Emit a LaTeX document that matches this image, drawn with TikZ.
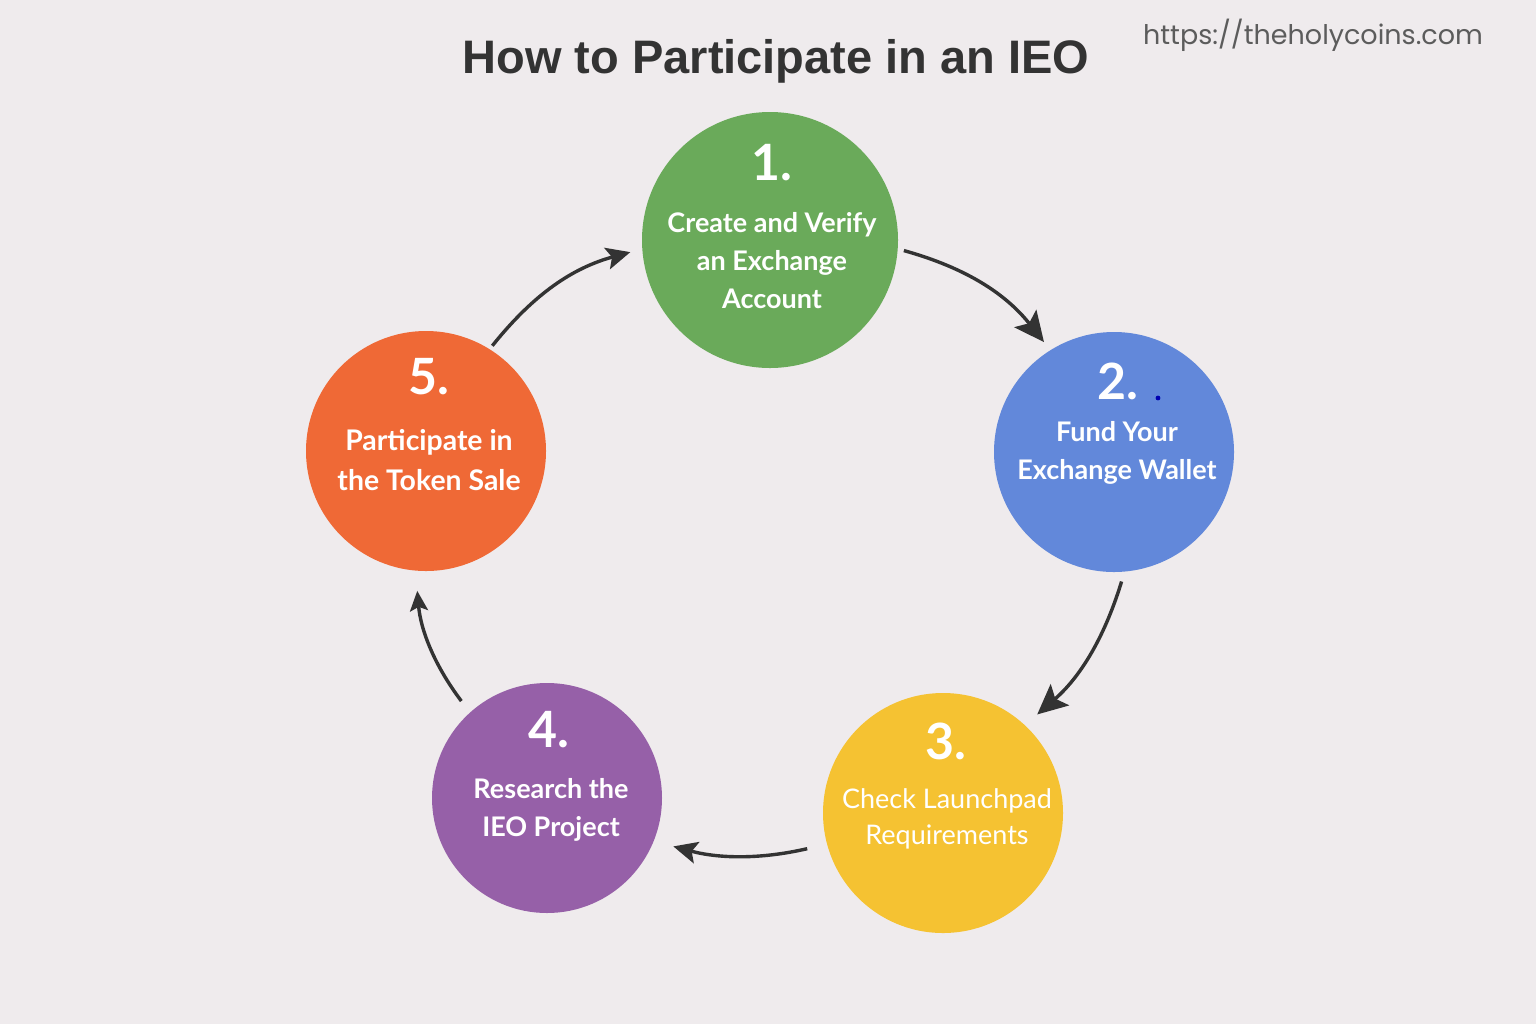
\documentclass[tikz,border=0pt]{standalone}
\usepackage{fontspec}
\usetikzlibrary{arrows.meta}
\newfontfamily\titlefont{Liberation Sans}
\newfontfamily\bodyfont{Lato}
\newfontfamily\urlfont{Poppins}
\definecolor{bgc}{HTML}{EFEBED}
\definecolor{cgreen}{HTML}{6AAA5A}
\definecolor{cblue}{HTML}{6288DA}
\definecolor{cyellow}{HTML}{F5C232}
\definecolor{cpurple}{HTML}{9660A8}
\definecolor{corange}{HTML}{EF6936}
\definecolor{ink}{HTML}{333333}
\tikzset{
  stepcirc/.style={circle, inner sep=0pt, fill=#1},
  numtxt/.style={text=white, font=\bodyfont\bfseries\fontsize{25}{25}\selectfont},
  bodytxt/.style={text=white, align=center, font=\bodyfont\bfseries\fontsize{13.5}{19}\selectfont},
  flow/.style={draw=ink, line width=1.7pt, bend left=#1},
  headL/.style={-{Stealth[length=15pt,width=14pt,inset=3pt]}},
  headM/.style={-{Stealth[length=12pt,width=11pt,inset=2.5pt]}},
  headS/.style={-{Stealth[length=10pt,width=9pt,inset=2pt]}},
}
\begin{document}
\begin{tikzpicture}[x=0.5pt,y=-0.5pt]
\fill[bgc] (0,0) rectangle (1536,1024);
\useasboundingbox (0,0) rectangle (1536,1024);

\node[text=ink, font=\titlefont\bfseries\fontsize{23.5}{24}\selectfont] (title) at (776,61) {How to Participate in an IEO};
\node[text=ink!80, font=\urlfont\fontsize{13.5}{14}\selectfont] (url) at (1313,35) {https://theholycoins.com};

\node[stepcirc=cgreen, minimum size=128pt] (c1) at (770,240) {};
\node[stepcirc=cblue, minimum size=120pt] (c2) at (1114,452) {};
\node[stepcirc=cyellow, minimum size=120pt] (c3) at (943,813) {};
\node[stepcirc=cpurple, minimum size=115pt] (c4) at (547,798) {};
\node[stepcirc=corange, minimum size=120pt] (c5) at (426,451) {};

\node[numtxt] (n1) at (772,163) {1.};
\node[bodytxt] (t1) at (772,261) {Create and Verify\\an Exchange\\Account};

\node[numtxt] (n2) at (1118,381) {2.};
\fill[blue!70!black] (1158,398) circle (1.2pt);
\node[bodytxt] (t2) at (1117,453) {Fund Your\\Exchange Wallet};

\node[numtxt] (n3) at (946,741) {3.};
\node[bodytxt, font=\bodyfont\fontsize{13.5}{18}\selectfont] (t3) at (947,819) {Check Launchpad\\Requirements};

\node[numtxt] (n4) at (549,730) {4.};
\node[bodytxt] (t4) at (551,810) {Research the\\IEO Project};

\node[numtxt] (n5) at (429,377) {5.};
\node[bodytxt, font=\bodyfont\bfseries\fontsize{14.2}{20}\selectfont] (t5) at (429,460) {Participate in\\the Token Sale};

\draw[flow=18, headL, shorten <=3pt, shorten >=5pt] (c1.-4) to (c2.122);
\draw[flow=16, headL, shorten <=5pt, shorten >=8pt] (c2.-85) to (c3.47);
\draw[flow=14, headM, shorten <=10pt, shorten >=10pt] (c3.-165) to (c4.-22);
\draw[flow=16, headS, shorten <=7pt, shorten >=10pt] (c4.132) to (c5.-95);
\draw[flow=18, headM, shorten <=2pt, shorten >=6pt] (c5.58) to (c1.-176);
\end{tikzpicture}
\end{document}
